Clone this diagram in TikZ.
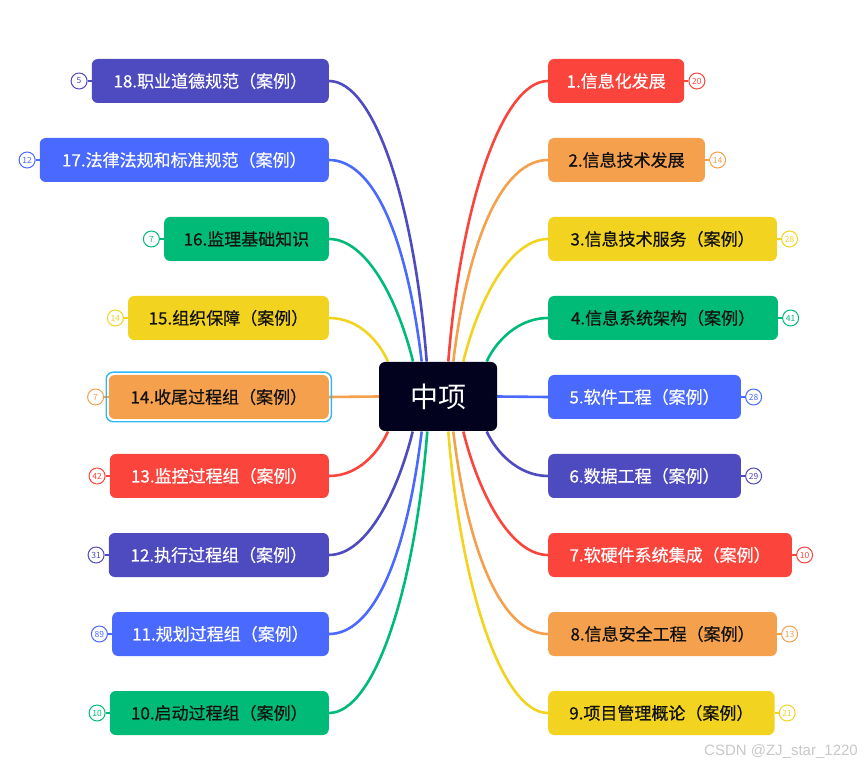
\documentclass[tikz,border=0pt]{standalone}
\usepackage{fontspec}
\setmainfont{Noto Sans CJK SC}
\newfontfamily\boxfont{Noto Sans CJK SC}[FakeBold=0.5]
\newfontfamily\wmfont{Liberation Sans}
\usetikzlibrary{positioning,backgrounds}
\definecolor{cred}{HTML}{FA443C}
\definecolor{corange}{HTML}{F5A04C}
\definecolor{cyellow}{HTML}{F2D31F}
\definecolor{cgreen}{HTML}{00BB78}
\definecolor{cblue}{HTML}{4A69FF}
\definecolor{cindigo}{HTML}{4E4ABF}
\definecolor{cnavy}{HTML}{02021E}
\definecolor{selblue}{HTML}{2EB8F5}
\definecolor{wm}{HTML}{C8C8C8}
\definecolor{dark}{HTML}{111111}
\tikzset{
  box/.style={rounded corners=6pt, minimum height=44pt, inner sep=0pt,
    font=\boxfont\fontsize{17}{20}\selectfont},
  rbox/.style={box, anchor=west},
  lbox/.style={box, anchor=east},
  lnk/.style={line width=2.6pt},
  badge/.style={circle, draw=#1, fill=white, line width=1pt, minimum size=16pt,
    inner sep=0pt, text=#1, font=\fontsize{8.5}{9}\selectfont},
  blink/.style={line width=1.2pt, draw=#1}
}
\begin{document}
\begin{tikzpicture}[x=1pt,y=-1pt]
\useasboundingbox (0,0) rectangle (863,767);
% central node
\node[fill=cnavy, rounded corners=6pt, minimum width=118pt, minimum height=69pt,
  inner sep=0pt, text=white, font=\fontsize{28}{32}\selectfont] (c) at (438,396.5) {中项};
% right boxes
\node[rbox, fill=cred, text=white, minimum width=136pt]     (b1) at (548,81)  {1.信息化发展};
\node[rbox, fill=corange, text=dark, minimum width=156.7pt] (b2) at (548,160) {2.信息技术发展};
\node[rbox, fill=cyellow, text=dark, minimum width=228.7pt] (b3) at (548,239) {3.信息技术服务（案例）};
\node[rbox, fill=cgreen, text=dark, minimum width=229.7pt]  (b4) at (548,318) {4.信息系统架构（案例）};
\node[rbox, fill=cblue, text=white, minimum width=192.7pt]  (b5) at (548,397) {5.软件工程（案例）};
\node[rbox, fill=cindigo, text=white, minimum width=192.7pt](b6) at (548,476) {6.数据工程（案例）};
\node[rbox, fill=cred, text=white, minimum width=243.7pt]   (b7) at (548,555) {7.软硬件系统集成（案例）};
\node[rbox, fill=corange, text=dark, minimum width=228.7pt] (b8) at (548,634) {8.信息安全工程（案例）};
\node[rbox, fill=cyellow, text=dark, minimum width=226.3pt] (b9) at (548,713) {9.项目管理概论（案例）};
% left boxes
\node[lbox, fill=cindigo, text=white, minimum width=237pt]   (b18) at (329,81)  {18.职业道德规范（案例）};
\node[lbox, fill=cblue, text=white, minimum width=289pt]     (b17) at (329,160) {17.法律法规和标准规范（案例）};
\node[lbox, fill=cgreen, text=dark, minimum width=164.7pt]   (b16) at (329,239) {16.监理基础知识};
\node[lbox, fill=cyellow, text=dark, minimum width=200.7pt]  (b15) at (329,318) {15.组织保障（案例）};
\node[lbox, fill=corange, text=dark, minimum width=220pt]     (b14) at (329,397) {14.收尾过程组（案例）};
\node[lbox, fill=cred, text=white, minimum width=219pt]      (b13) at (329,476) {13.监控过程组（案例）};
\node[lbox, fill=cindigo, text=white, minimum width=220pt]   (b12) at (329,555) {12.执行过程组（案例）};
\node[lbox, fill=cblue, text=white, minimum width=216.7pt]   (b11) at (329,634) {11.规划过程组（案例）};
\node[lbox, fill=cgreen, text=dark, minimum width=219pt]     (b10) at (329,713) {10.启动过程组（案例）};
% selection outline
\draw[selblue, line width=1.4pt, rounded corners=7pt]
  ([shift={(-2.4,-2.6)}]b14.north west) rectangle ([shift={(2.4,2.6)}]b14.south east);
% badges right
\node[badge=cred,    right=4pt of b1] (n1) {20};
\node[badge=corange, right=4pt of b2] (n2) {14};
\node[badge=cyellow, right=4pt of b3] (n3) {28};
\node[badge=cgreen,  right=4pt of b4] (n4) {41};
\node[badge=cblue,   right=4pt of b5] (n5) {28};
\node[badge=cindigo, right=4pt of b6] (n6) {29};
\node[badge=cred,    right=4pt of b7] (n7) {10};
\node[badge=corange, right=4pt of b8] (n8) {13};
\node[badge=cyellow, right=4pt of b9] (n9) {21};
% badges left
\node[badge=cindigo, left=4pt of b18] (n18) {5};
\node[badge=cblue,   left=4pt of b17] (n17) {12};
\node[badge=cgreen,  left=4pt of b16] (n16) {7};
\node[badge=cyellow, left=4pt of b15] (n15) {14};
\node[badge=corange, left=4.5pt of b14] (n14) {7};
\node[badge=cred,    left=4pt of b13] (n13) {42};
\node[badge=cindigo, left=4pt of b12] (n12) {31};
\node[badge=cblue,   left=4pt of b11] (n11) {89};
\node[badge=cgreen,  left=4pt of b10] (n10) {10};
\begin{pgfonlayer}{background}
% badge links
\foreach \i/\col in {1/cred,2/corange,3/cyellow,4/cgreen,5/cblue,6/cindigo,7/cred,8/corange,9/cyellow}
  \draw[blink=\col] (b\i.east) -- (n\i.west);
\foreach \i/\col in {18/cindigo,17/cblue,16/cgreen,15/cyellow,14/corange,13/cred,12/cindigo,11/cblue,10/cgreen}
  \draw[blink=\col] (b\i.west) -- (n\i.east);
% right connectors
\draw[lnk, cred]    ([shift={(10.3,-35)}]c.center) .. controls +(12.7,-160) and +(-45,0) .. (b1.west);
\draw[lnk, corange] ([shift={(15.3,-35)}]c.center) .. controls +(15.7,-130) and +(-43,0) .. (b2.west);
\draw[lnk, cyellow] ([shift={(25.3,-35)}]c.center) .. controls +(14.7,-60) and +(-38,0) .. (b3.west);
\draw[lnk, cgreen]  ([shift={(48.7,-35)}]c.center) .. controls +(9,-20) and +(-30,0) .. (b4.west);
\draw[lnk, cblue]   (c.east) -- (b5.west);
\draw[lnk, cindigo] ([shift={(48.7,35)}]c.center) .. controls +(9,20) and +(-30,0) .. (b6.west);
\draw[lnk, cred]    ([shift={(25.3,35)}]c.center) .. controls +(14.7,60) and +(-38,0) .. (b7.west);
\draw[lnk, corange] ([shift={(15.3,35)}]c.center) .. controls +(15.7,130) and +(-43,0) .. (b8.west);
\draw[lnk, cyellow] ([shift={(10.3,35)}]c.center) .. controls +(12.7,160) and +(-45,0) .. (b9.west);
% left connectors
\draw[lnk, cindigo] ([shift={(-11.3,-35)}]c.center) .. controls +(-12.7,-160) and +(45,0) .. (b18.east);
\draw[lnk, cblue]   ([shift={(-16.3,-35)}]c.center) .. controls +(-15.7,-130) and +(43,0) .. (b17.east);
\draw[lnk, cgreen]  ([shift={(-25,-35)}]c.center) .. controls +(-14.7,-60) and +(38,0) .. (b16.east);
\draw[lnk, cyellow] ([shift={(-50,-35)}]c.center) .. controls +(-9,-20) and +(30,0) .. (b15.east);
\draw[lnk, corange] (c.west) -- (b14.east);
\draw[lnk, cred]    ([shift={(-50,35)}]c.center) .. controls +(-9,20) and +(30,0) .. (b13.east);
\draw[lnk, cindigo] ([shift={(-25.3,35)}]c.center) .. controls +(-14.7,60) and +(38,0) .. (b12.east);
\draw[lnk, cblue]   ([shift={(-16.3,35)}]c.center) .. controls +(-15.7,130) and +(43,0) .. (b11.east);
\draw[lnk, cgreen]  ([shift={(-10.7,35)}]c.center) .. controls +(-12.7,160) and +(45,0) .. (b10.east);
\end{pgfonlayer}
% watermark
\node[anchor=east, text=wm, inner sep=0pt, font=\wmfont\fontsize{15}{16}\selectfont] (wmk) at (858,752) {CSDN @ZJ\_star\_1220};
\end{tikzpicture}
\end{document}
